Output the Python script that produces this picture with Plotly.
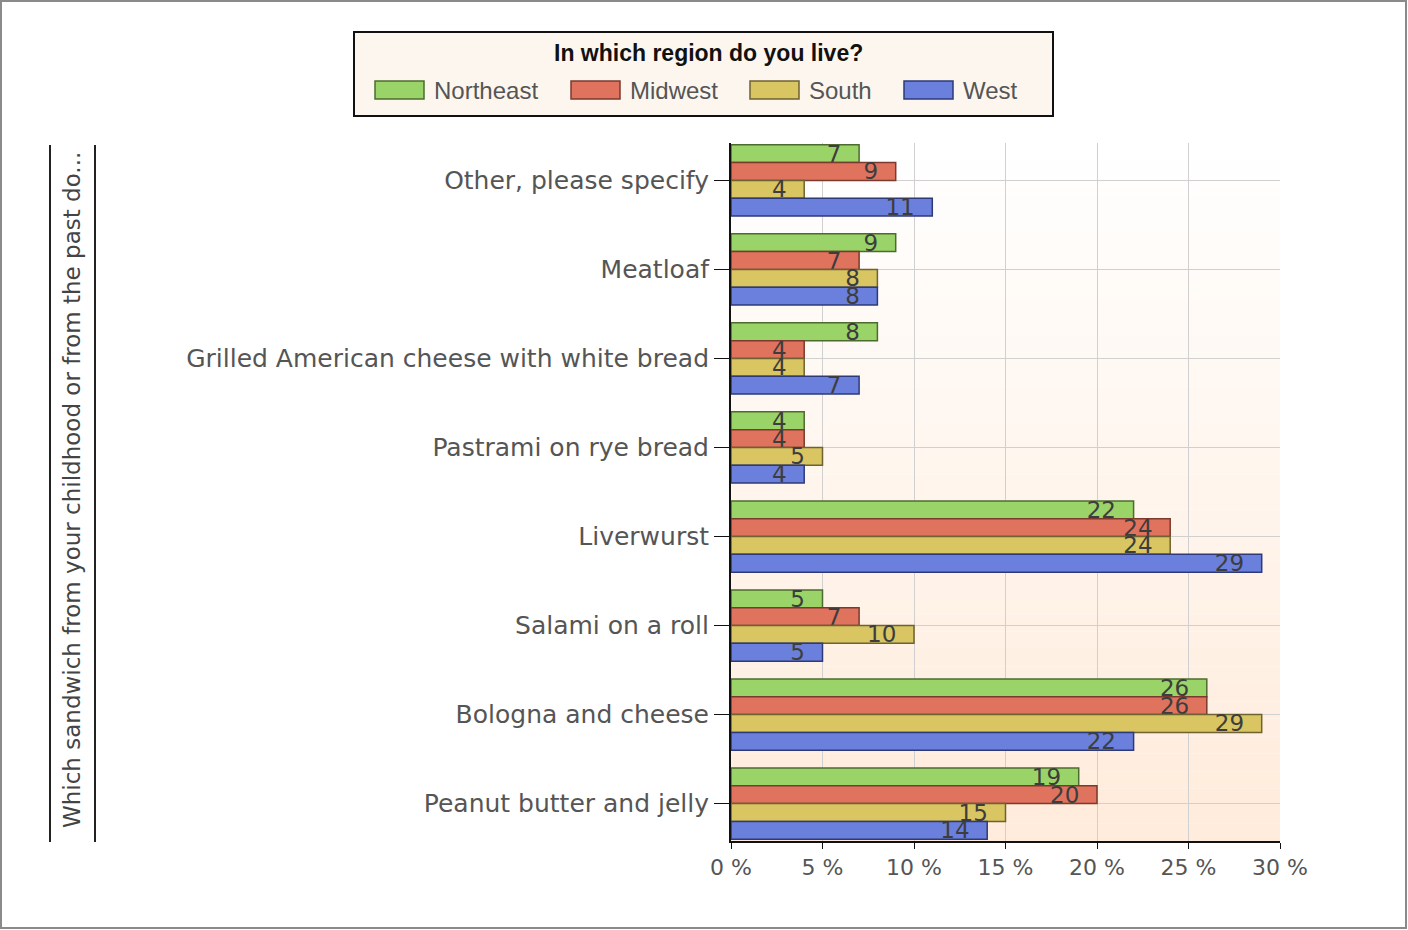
import plotly.graph_objects as go

categories = [
    "Other, please specify",
    "Meatloaf",
    "Grilled American cheese with white bread",
    "Pastrami on rye bread",
    "Liverwurst",
    "Salami on a roll",
    "Bologna and cheese",
    "Peanut butter and jelly",
]
northeast = [7, 9, 8, 4, 22, 5, 26, 19]
midwest = [9, 7, 4, 4, 24, 7, 26, 20]
south = [4, 8, 4, 5, 24, 10, 29, 15]
west = [11, 8, 7, 4, 29, 5, 22, 14]
series_names = ["Northeast", "Midwest", "South", "West"]
x_ticks = [0, 5, 10, 15, 20, 25, 30]
x_tick_labels = ["0 %", "5 %", "10 %", "15 %", "20 %", "25 %", "30 %"]
legend_title = "In which region do you live?"
y_title = "Which sandwich from your childhood or from the past do..."

colors = ["#9ad468", "#e0735e", "#d9c562", "#6b80dc"]
outlines = ["#4d6b2e", "#7a3a2e", "#6e6230", "#2e3a78"]

W, H = 1408, 930
L, R, T, B = 731, 1280, 143, 841
pw, ph = R - L, B - T


def px_x(p):
    return (p - L) / pw


def px_y(p):
    return (B - p) / ph


fig = go.Figure()
for name, vals, c, oc in zip(series_names, [northeast, midwest, south, west], colors, outlines):
    fig.add_trace(go.Bar(
        y=categories, x=vals, name=name, orientation="h",
        marker=dict(color=c, line=dict(color=oc, width=1.5)),
        text=vals, texttemplate="%{text}\u00a0\u00a0",
        textposition="inside", insidetextanchor="end", constraintext="none",
        textfont=dict(family="DejaVu Sans", size=23, color="#3d3d3d"),
        cliponaxis=False, showlegend=False,
    ))

shapes = []
annotations = []
# background gradient bands for plot area
n = 40
for i in range(n):
    t = i / (n - 1)
    g = int(255 - t * (255 - 236))
    b = int(255 - t * (255 - 220))
    shapes.append(dict(type="rect", xref="paper", yref="paper", x0=0, x1=1,
                       y0=1 - (i + 1) / n, y1=1 - i / n, fillcolor=f"rgb(255,{g},{b})",
                       line=dict(width=0), layer="below"))
# outer border
shapes.append(dict(type="rect", xref="paper", yref="paper",
                   x0=px_x(1), x1=px_x(W - 2), y0=px_y(H - 2), y1=px_y(1),
                   line=dict(color="#8a8a8a", width=2), fillcolor="rgba(0,0,0,0)"))
# lines beside the y title
for xp in [50, 95]:
    shapes.append(dict(type="line", xref="paper", yref="paper",
                       x0=px_x(xp), x1=px_x(xp), y0=px_y(842), y1=px_y(145),
                       line=dict(color="#222", width=2)))

# custom legend
shapes.append(dict(type="rect", xref="paper", yref="paper",
                   x0=px_x(354), x1=px_x(1053), y0=px_y(116), y1=px_y(32),
                   line=dict(color="#111", width=2), fillcolor="#fdf6ee"))
annotations.append(dict(text="<b>" + legend_title + "</b>", xref="paper", yref="paper",
                        x=px_x(708), y=px_y(53), xanchor="center", yanchor="middle",
                        showarrow=False,
                        font=dict(family="Liberation Sans Narrow, Liberation Sans", size=23, color="#111")))
legend_swatch_x = [375, 571, 750, 904]
for name, c, oc, sx in zip(series_names, colors, outlines, legend_swatch_x):
    shapes.append(dict(type="rect", xref="paper", yref="paper",
                       x0=px_x(sx), x1=px_x(sx + 49), y0=px_y(99), y1=px_y(81),
                       line=dict(color=oc, width=1.5), fillcolor=c))
    annotations.append(dict(text=name, xref="paper", yref="paper",
                            x=px_x(sx + 57), y=px_y(90), xanchor="left", yanchor="middle",
                            showarrow=False,
                            font=dict(family="Liberation Sans", size=24, color="#555")))

annotations.append(dict(
    text=y_title, textangle=-90, xref="paper", yref="paper",
    x=px_x(72), y=px_y(490), xanchor="center", yanchor="middle", showarrow=False,
    font=dict(family="DejaVu Sans", size=23, color="#444"),
))

fig.update_layout(
    width=W, height=H,
    margin=dict(l=L, r=W - R, t=T, b=H - B, pad=0),
    paper_bgcolor="white", plot_bgcolor="rgba(0,0,0,0)",
    barmode="group", bargap=0.2, bargroupgap=0,
    font=dict(family="DejaVu Sans", color="#555"),
    showlegend=False,
    xaxis=dict(
        range=[0, 30], tickvals=x_ticks, ticktext=x_tick_labels,
        showgrid=True, gridcolor="#d0d0d0", gridwidth=1,
        showline=True, linecolor="#111", linewidth=2,
        ticks="outside", ticklen=6, tickcolor="#111",
        tickfont=dict(family="DejaVu Sans", size=22, color="#555"),
        zeroline=False,
    ),
    yaxis=dict(
        categoryorder="array", categoryarray=categories,
        range=[7.42, -0.42],
        showgrid=True, gridcolor="#d0d0d0", gridwidth=1,
        showline=True, linecolor="#111", linewidth=2,
        ticks="outside", ticklen=15, tickcolor="#111",
        tickfont=dict(family="DejaVu Sans", size=25, color="#555"),
    ),
    shapes=shapes,
    annotations=annotations,
)

fig.write_html("out.html", config={"displayModeBar": False},
               post_script="document.body.style.margin='0';document.body.style.overflow='hidden';")
